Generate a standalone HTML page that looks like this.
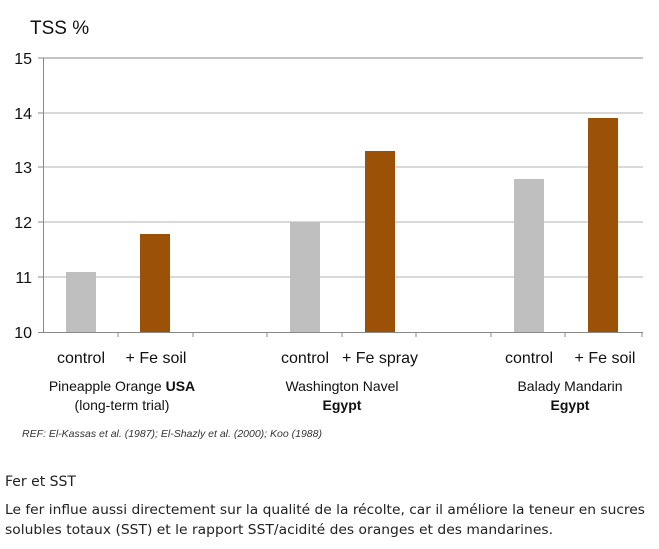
<!DOCTYPE html>
<html><head><meta charset="utf-8"><style>
body{margin:0;background:#fff;width:659px;height:549px;overflow:hidden;font-family:"Liberation Sans",sans-serif;}
</style></head><body>
<svg width="659" height="549" xmlns="http://www.w3.org/2000/svg" style="position:absolute;left:0;top:0">
<g font-family="Liberation Sans, sans-serif" fill="#111">
<text x="30" y="34" font-size="19">TSS %</text>
<g stroke="#d9d9d9" stroke-width="2">
<line x1="43" y1="277" x2="643" y2="277"/><line x1="43" y1="222" x2="643" y2="222"/>
<line x1="43" y1="167" x2="643" y2="167"/><line x1="43" y1="113" x2="643" y2="113"/>
</g>
<line x1="43" y1="58" x2="643" y2="58" stroke="#888" stroke-width="1"/>
<g stroke="#888" stroke-width="1">
<line x1="43.5" y1="58" x2="43.5" y2="332"/>
<line x1="38" y1="332.5" x2="643" y2="332.5"/>
<line x1="38" y1="58" x2="43" y2="58"/><line x1="38" y1="113" x2="43" y2="113"/><line x1="38" y1="167" x2="43" y2="167"/><line x1="38" y1="222" x2="43" y2="222"/><line x1="38" y1="277" x2="43" y2="277"/>
<line x1="118" y1="332" x2="118" y2="337"/><line x1="193" y1="332" x2="193" y2="337"/><line x1="267" y1="332" x2="267" y2="337"/><line x1="342" y1="332" x2="342" y2="337"/><line x1="416" y1="332" x2="416" y2="337"/><line x1="491" y1="332" x2="491" y2="337"/><line x1="565" y1="332" x2="565" y2="337"/><line x1="642" y1="332" x2="642" y2="337"/>
</g>
<g font-size="16" text-anchor="end">
<text x="32" y="64">15</text><text x="32" y="119">14</text><text x="32" y="173">13</text><text x="32" y="228">12</text><text x="32" y="283">11</text><text x="32" y="338">10</text>
</g>
<rect x="66" y="272" width="30" height="60" fill="#bfbfbf"/>
<rect x="140" y="234" width="30" height="98" fill="#9c5206"/>
<rect x="290" y="222" width="30" height="110" fill="#bfbfbf"/>
<rect x="365" y="151" width="30" height="181" fill="#9c5206"/>
<rect x="514" y="179" width="30" height="153" fill="#bfbfbf"/>
<rect x="588" y="118" width="30" height="214" fill="#9c5206"/>
<g font-size="16" text-anchor="middle">
<text x="81" y="363">control</text><text x="156" y="363">+ Fe soil</text>
<text x="305" y="363">control</text><text x="380" y="363">+ Fe spray</text>
<text x="529" y="363">control</text><text x="605" y="363">+ Fe soil</text>
</g>
<g font-size="14" text-anchor="middle">
<text x="122" y="391">Pineapple Orange <tspan font-weight="bold">USA</tspan></text>
<text x="122" y="410">(long-term trial)</text>
<text x="342" y="391">Washington Navel</text>
<text x="342" y="410" font-weight="bold">Egypt</text>
<text x="570" y="391">Balady Mandarin</text>
<text x="570" y="410" font-weight="bold">Egypt</text>
</g>
<text x="22" y="437" font-size="10.5" font-style="italic" fill="#333">REF: El-Kassas et al. (1987); El-Shazly et al. (2000); Koo (1988)</text>
<g font-family="DejaVu Sans, sans-serif" fill="#222">
<text x="5" y="486" font-size="14">Fer et SST</text>
<text x="5" y="514" font-size="13.3" textLength="640" lengthAdjust="spacingAndGlyphs">Le fer influe aussi directement sur la qualité de la récolte, car il améliore la teneur en sucres</text>
<text x="5" y="534" font-size="13.3" textLength="548" lengthAdjust="spacingAndGlyphs">solubles totaux (SST) et le rapport SST/acidité des oranges et des mandarines.</text>
</g>
</g>
</svg>
</body></html>
